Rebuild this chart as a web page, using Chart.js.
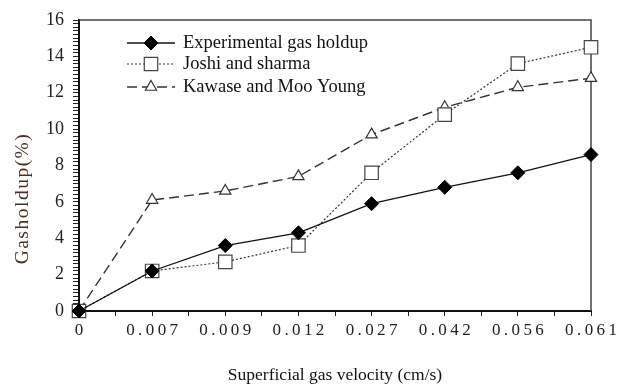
<!DOCTYPE html>
<html>
<head>
<meta charset="utf-8">
<script src="https://cdn.jsdelivr.net/npm/chart.js@4/dist/chart.umd.min.js"></script>
<style>
  html, body { margin: 0; padding: 0; background: #fff; }
  #wrap { width: 624px; height: 389px; }
</style>
</head>
<body>
<div id="wrap"><canvas id="grafica"></canvas></div>
<script>
// velocidades (cm/s) como categorias del eje x
const categorias = ['0', '0.007', '0.009', '0.012', '0.027', '0.042', '0.056', '0.061'];
const experimental = [0, 2.2, 3.6, 4.3, 5.9, 6.8, 7.6, 8.6];
const joshiSharma = [0, 2.2, 2.7, 3.6, 7.6, 10.8, 13.6, 14.5];
const kawaseMooYoung = [0, 6.1, 6.6, 7.4, 9.7, 11.2, 12.3, 12.8];
const yEtiquetas = [0, 2, 4, 6, 8, 10, 12, 14, 16];

const serif = '"Liberation Serif", "DejaVu Serif", serif';

function aPuntos(arr) {
    return arr.map((v, i) => ({ x: i, y: v }));
}

// separar los digitos como en la figura original
function espaciado(txt) {
    return txt.split('').join('\u2009');
}

// marco superior y derecho del area
const marco = {
    id: 'marco',
    beforeDatasetsDraw(chart) {
        const { ctx, chartArea: a } = chart;
        ctx.save();
        ctx.strokeStyle = '#444';
        ctx.lineWidth = 1.5;
        ctx.beginPath();
        ctx.moveTo(a.left, a.top);
        ctx.lineTo(a.right, a.top);
        ctx.lineTo(a.right, a.bottom);
        ctx.stroke();
        ctx.restore();
    }
};

// titulo del eje y (va algo mas abajo que el centro en la original)
const tituloY = {
    id: 'tituloY',
    afterDraw(chart) {
        const { ctx, chartArea: a } = chart;
        ctx.save();
        ctx.translate(23, (a.top + a.bottom) / 2 + 33);
        ctx.rotate(-Math.PI / 2);
        ctx.fillStyle = '#4a3020';
        ctx.font = '19.5px ' + serif;
        ctx.letterSpacing = '1.5px';
        ctx.textAlign = 'center';
        ctx.textBaseline = 'middle';
        ctx.fillText('Gasholdup(%)', 0, 0);
        ctx.restore();
    }
};

// leyenda dentro del grafico, con la linea y el marcador al medio
const leyenda = {
    id: 'leyenda',
    afterDraw(chart) {
        const { ctx, chartArea: a } = chart;
        const x0 = a.left + 48, x1 = a.left + 96;
        const filas = [a.top + 23, a.top + 44, a.top + 67];
        chart.data.datasets.forEach((ds, i) => {
            const y = filas[i];
            ctx.save();
            ctx.strokeStyle = ds.borderColor;
            ctx.lineWidth = ds.borderWidth;
            ctx.setLineDash(ds.borderDash || []);
            ctx.beginPath();
            ctx.moveTo(x0, y);
            ctx.lineTo(x1, y);
            ctx.stroke();
            ctx.setLineDash([]);
            ctx.fillStyle = ds.pointBackgroundColor;
            ctx.strokeStyle = ds.pointBorderColor;
            ctx.lineWidth = ds.pointBorderWidth;
            Chart.helpers.drawPoint(ctx, {
                pointStyle: ds.pointStyle, radius: ds.pointRadius,
                rotation: 0, borderWidth: ds.pointBorderWidth
            }, (x0 + x1) / 2, y);
            ctx.fillStyle = '#111';
            ctx.font = '18.5px ' + serif;
            ctx.textBaseline = 'middle';
            ctx.fillText(ds.label, x1 + 8, y);
            ctx.restore();
        });
    }
};

new Chart(document.getElementById('grafica'), {
    type: 'line',
    data: {
        datasets: [
            {
                label: 'Experimental gas holdup',
                data: aPuntos(experimental),
                borderColor: '#111',
                borderWidth: 1.3,
                pointStyle: 'rectRot',
                pointRadius: 7,
                pointBackgroundColor: '#000',
                pointBorderColor: '#000',
                pointBorderWidth: 1,
                clip: false
            },
            {
                label: 'Joshi and sharma',
                data: aPuntos(joshiSharma),
                borderColor: '#333',
                borderWidth: 1.2,
                borderDash: [2, 2],
                pointStyle: 'rect',
                pointRadius: 9.5,
                pointBackgroundColor: '#fff',
                pointBorderColor: '#444',
                pointBorderWidth: 1.2,
                clip: false
            },
            {
                label: 'Kawase and Moo Young',
                data: aPuntos(kawaseMooYoung),
                borderColor: '#333',
                borderWidth: 1.4,
                borderDash: [10, 5],
                pointStyle: 'triangle',
                pointRadius: 6.5,
                pointBackgroundColor: '#fff',
                pointBorderColor: '#333',
                pointBorderWidth: 1.2,
                clip: false
            }
        ]
    },
    options: {
        responsive: true,
        maintainAspectRatio: false,
        animation: false,
        layout: { padding: { top: 20, right: 33, left: 0, bottom: 0 } },
        plugins: { legend: { display: false }, tooltip: { enabled: false } },
        elements: { line: { tension: 0 } },
        scales: {
            x: {
                type: 'linear',
                min: 0,
                max: categorias.length - 1,
                afterFit(s) { s.height = 78; },
                border: { display: true, color: '#111', width: 2 },
                grid: { drawOnChartArea: false, drawTicks: true, tickLength: 5, tickColor: '#222' },
                ticks: {
                    stepSize: 0.5,
                    autoSkip: false,
                    maxRotation: 0,
                    padding: 4,
                    color: '#222',
                    font: { family: serif, size: 17 },
                    callback: v => Number.isInteger(v) ? espaciado(categorias[v]) : ''
                },
                title: {
                    display: true,
                    text: 'Superficial gas velocity (cm/s)',
                    color: '#111',
                    font: { family: serif, size: 17.5 },
                    padding: { top: 0, bottom: 3 }
                }
            },
            y: {
                min: 0,
                max: yEtiquetas[yEtiquetas.length - 1],
                afterFit(s) { s.width = 79; },
                border: { display: true, color: '#111', width: 2 },
                grid: { drawOnChartArea: false, drawTicks: true, tickLength: 6, tickColor: '#222' },
                ticks: {
                    stepSize: 0.2,
                    maxTicksLimit: 200,
                    autoSkip: false,
                    padding: 9,
                    color: '#222',
                    font: { family: serif, size: 18 },
                    callback: v => {
                        const r = Math.round(v);
                        return (Math.abs(v - r) < 1e-6 && yEtiquetas.includes(r)) ? r : '';
                    }
                }
            }
        }
    },
    plugins: [marco, tituloY, leyenda]
});
</script>
</body>
</html>
